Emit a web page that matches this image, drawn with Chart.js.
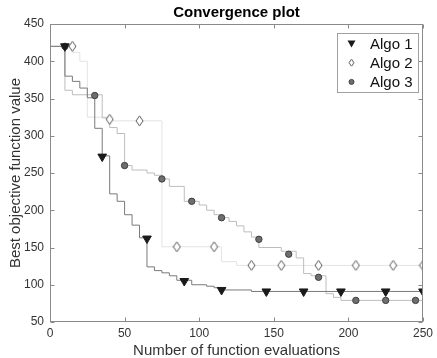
<!DOCTYPE html>
<html>
<head>
<meta charset="utf-8">
<script src="https://cdn.jsdelivr.net/npm/chart.js@4.4.1/dist/chart.umd.min.js"></script>
<style>
html, body { margin: 0; padding: 0; background: #fff; }
#wrap { width: 437px; height: 358px; }
</style>
</head>
<body>
<div id="wrap"><canvas id="convChart"></canvas></div>
<script>
// Stairs data: the value y[i] holds from x[i] until x[i+1]
const algo1X = [0, 10, 15, 20, 25, 30, 35, 40, 45, 50, 55, 60, 65, 70, 75, 80, 85, 95, 105, 110, 115, 135, 250];
const algo1Y = [420, 380, 373, 364, 351, 310, 273, 222, 212, 194, 180, 163, 124, 119, 116, 112, 106, 100, 98, 96, 93, 91, 91];

const algo2X = [0, 15, 20, 25, 40, 75, 115, 125, 250];
const algo2Y = [420, 412, 400, 325, 320, 151, 131, 126, 126];

const algo3X = [0, 10, 15, 35, 40, 45, 50, 55, 65, 70, 75, 80, 90, 100, 105, 110, 115, 120, 125, 130, 135, 140, 155, 165, 170, 175, 185, 190, 195, 250];
const algo3Y = [420, 361, 355, 324, 311, 303, 260, 254, 250, 247, 242, 232, 212, 207, 200, 194, 190, 185, 179, 171, 164, 150, 145, 136, 115, 112, 88, 83, 79, 79];

// Marker positions
const mark1X = [10, 35, 65, 90, 115, 145, 170, 195, 225, 250];
const mark1Y = [420, 272, 162, 105, 93, 91, 91, 91, 91, 91];
const mark2X = [15, 40, 60, 85, 110, 135, 155, 180, 205, 230, 250];
const mark2Y = [420, 322, 320, 151, 151, 126, 126, 126, 126, 126, 126];
const mark3X = [10, 30, 50, 75, 95, 115, 140, 160, 180, 205, 225, 245];
const mark3Y = [420, 354, 260, 242, 212, 190, 161, 141, 110, 79, 79, 79];

const seriesNames = ['Algo 1', 'Algo 2', 'Algo 3'];

const FONT = '"Liberation Sans", Arial, Helvetica, sans-serif';
const AXIS_COLOR = '#8a8a8a';
const TEXT_COLOR = '#333333';

function toPoints(xs, ys) {
    return xs.map((x, i) => ({ x: x, y: ys[i] }));
}

// MATLAB style diamond is taller than wide, so build it as a small image
function makeDiamond(w, h) {
    const c = document.createElement('canvas');
    c.width = w + 2;
    c.height = h + 2;
    const g = c.getContext('2d');
    g.beginPath();
    g.moveTo(c.width / 2, 1);
    g.lineTo(c.width - 1, c.height / 2);
    g.lineTo(c.width / 2, c.height - 1);
    g.lineTo(1, c.height / 2);
    g.closePath();
    g.fillStyle = '#ffffff';
    g.fill();
    g.strokeStyle = '#555555';
    g.lineWidth = 1;
    g.stroke();
    return c;
}

const diamondBig = makeDiamond(7, 10);
const diamondSmall = makeDiamond(5, 7);

// Center the chart title over the plot area, not the whole canvas
const titleCenterPlugin = {
    id: 'titleCenter',
    afterLayout(chart) {
        if (chart.titleBlock) {
            chart.titleBlock.left = chart.chartArea.left;
            chart.titleBlock.right = chart.chartArea.right;
        }
    }
};

// Box around the axes with inward ticks on all four sides
const boxPlugin = {
    id: 'matlabBox',
    afterDraw(chart) {
        const { ctx, chartArea: a, scales } = chart;
        const L = Math.round(a.left) + 0.5, R = Math.round(a.right) - 0.5;
        const T = Math.round(a.top) + 0.5, B = Math.round(a.bottom) - 0.5;
        ctx.save();
        ctx.strokeStyle = AXIS_COLOR;
        ctx.lineWidth = 1;
        ctx.strokeRect(L, T, R - L, B - T);
        ctx.beginPath();
        scales.x.ticks.forEach(t => {
            const px = Math.round(scales.x.getPixelForValue(t.value)) + 0.5;
            ctx.moveTo(px, B); ctx.lineTo(px, B - 4);
            ctx.moveTo(px, T); ctx.lineTo(px, T + 4);
        });
        scales.y.ticks.forEach(t => {
            const py = Math.round(scales.y.getPixelForValue(t.value)) + 0.5;
            ctx.moveTo(L, py); ctx.lineTo(L + 4, py);
            ctx.moveTo(R, py); ctx.lineTo(R - 4, py);
        });
        ctx.stroke();
        ctx.restore();
    }
};

// Legend box in the upper right corner, markers only
const legendPlugin = {
    id: 'boxLegend',
    afterDraw(chart) {
        const ctx = chart.ctx;
        const x0 = 337.5, y0 = 33.5, w = 81, h = 59;
        ctx.save();
        ctx.fillStyle = '#ffffff';
        ctx.fillRect(x0, y0, w, h);
        ctx.strokeStyle = '#a0a0a0';
        ctx.lineWidth = 1;
        ctx.strokeRect(x0, y0, w, h);
        ctx.font = '15px ' + FONT;
        ctx.textBaseline = 'middle';
        ctx.textAlign = 'left';
        seriesNames.forEach((name, i) => {
            const cy = 43.5 + i * 19.2;
            const cx = 351.5;
            if (i === 0) {
                ctx.beginPath();
                ctx.moveTo(cx - 4, cy - 3);
                ctx.lineTo(cx + 4, cy - 3);
                ctx.lineTo(cx, cy + 4);
                ctx.closePath();
                ctx.fillStyle = '#1a1a1a';
                ctx.fill();
            } else if (i === 1) {
                ctx.drawImage(diamondSmall, cx - diamondSmall.width / 2, cy - diamondSmall.height / 2);
            } else {
                ctx.beginPath();
                ctx.arc(cx, cy, 2.5, 0, Math.PI * 2);
                ctx.fillStyle = '#6e6e6e';
                ctx.fill();
                ctx.strokeStyle = '#444444';
                ctx.stroke();
            }
            ctx.fillStyle = '#111111';
            ctx.fillText(name, 370, cy + 1);
        });
        ctx.restore();
    }
};

const lineBase = { showLine: true, stepped: 'before', pointRadius: 0, borderWidth: 1, fill: false };

const datasets = [
    { ...lineBase, label: 'Algo 1 line', data: toPoints(algo1X, algo1Y), borderColor: '#7a7a7a', order: 1 },
    { ...lineBase, label: 'Algo 3 line', data: toPoints(algo3X, algo3Y), borderColor: '#bdbdbd', order: 2 },
    { ...lineBase, label: 'Algo 2 line', data: toPoints(algo2X, algo2Y), borderColor: '#e3e3e3', order: 3 },
    {
        label: seriesNames[0], data: toPoints(mark1X, mark1Y), showLine: false,
        pointStyle: 'triangle', rotation: 180, pointRadius: 5,
        backgroundColor: '#1a1a1a', borderColor: '#1a1a1a', borderWidth: 1, order: 0
    },
    {
        label: seriesNames[1], data: toPoints(mark2X, mark2Y), showLine: false,
        pointStyle: diamondBig, pointRadius: 5, order: 0
    },
    {
        label: seriesNames[2], data: toPoints(mark3X, mark3Y), showLine: false,
        pointStyle: 'circle', pointRadius: 3.2,
        backgroundColor: '#6e6e6e', borderColor: '#3f3f3f', borderWidth: 1, order: 0
    }
];

const ctx = document.getElementById('convChart').getContext('2d');
new Chart(ctx, {
    type: 'scatter',
    data: { datasets },
    options: {
        responsive: true,
        maintainAspectRatio: false,
        animation: false,
        devicePixelRatio: 1,
        layout: { padding: { left: 0, right: 12, top: 0, bottom: 0 } },
        scales: {
            x: {
                type: 'linear',
                min: 0,
                max: 250,
                afterFit: (scale) => { scale.height = 36; },
                grid: { display: false, drawTicks: false },
                border: { display: false },
                ticks: {
                    stepSize: 50,
                    padding: 4,
                    color: TEXT_COLOR,
                    font: { family: FONT, size: 12 }
                },
                title: {
                    display: true,
                    text: 'Number of function evaluations',
                    color: TEXT_COLOR,
                    font: { family: FONT, size: 15, lineHeight: 1 },
                    padding: { top: 0, bottom: 0 }
                }
            },
            y: {
                type: 'linear',
                min: 50,
                max: 450,
                afterFit: (scale) => { scale.width = 50; },
                grid: { display: false, drawTicks: false },
                border: { display: false },
                ticks: {
                    stepSize: 50,
                    padding: 6,
                    color: TEXT_COLOR,
                    font: { family: FONT, size: 12 }
                },
                title: {
                    display: true,
                    text: 'Best objective function value',
                    color: TEXT_COLOR,
                    font: { family: FONT, size: 15, lineHeight: 1 },
                    padding: { top: 8, bottom: 0 }
                }
            }
        },
        plugins: {
            title: {
                display: true,
                text: 'Convergence plot',
                color: '#000000',
                font: { family: FONT, size: 15, weight: 'bold' },
                padding: { top: 4, bottom: 2 }
            },
            legend: { display: false },
            tooltip: { enabled: false }
        }
    },
    plugins: [titleCenterPlugin, boxPlugin, legendPlugin]
});
</script>
</body>
</html>
